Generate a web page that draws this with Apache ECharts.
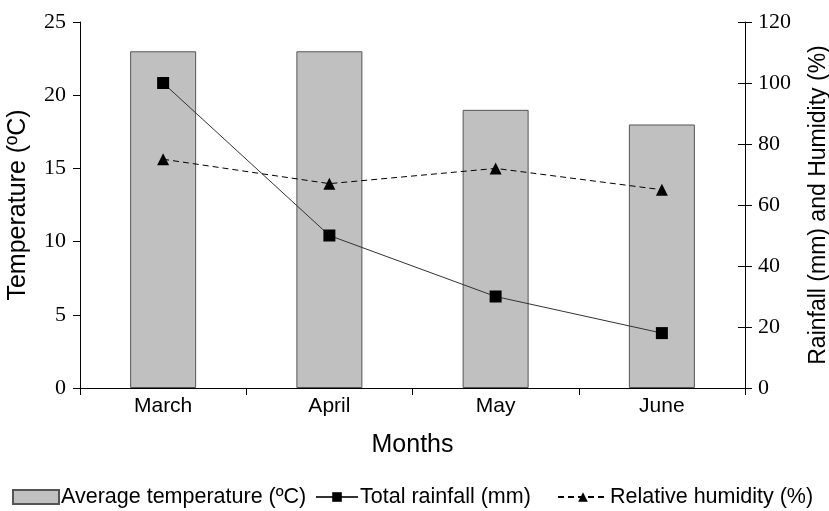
<!DOCTYPE html>
<html><head><meta charset="utf-8">
<script src="https://cdn.jsdelivr.net/npm/echarts@6/dist/echarts.min.js"></script>
<style>html,body{margin:0;padding:0;background:#fff}#c{width:829px;height:511px}</style>
</head><body><div id="c"></div>
<script>
var months = ['March', 'April', 'May', 'June'];
var avgTemperature = [23, 23, 19, 18];
var totalRainfall = [100, 50, 30, 18];
var relHumidity = [75, 67, 72, 65];
var leftTicks = [0, 25, 5];
var rightTicks = [0, 120, 20];

var chart = echarts.init(document.getElementById('c'), null, {renderer: 'canvas'});
var sans = 'Liberation Sans, Arial, sans-serif';
var serif = 'Liberation Serif, Times New Roman, serif';
var legendText = {fontFamily: sans, fontSize: 21.5, color: '#000', padding: [0, 0, 0, -3]};
chart.setOption({
  animation: false,
  backgroundColor: '#fff',
  grid: {left: 80, right: 84, top: 22, bottom: 123, outerBoundsMode: 'none', containLabel: false},
  legend: [
    {data: ['Average temperature (ºC)'], left: 12, top: 486, itemWidth: 46, itemHeight: 14, padding: 0, textStyle: legendText, icon: 'rect'},
    {data: ['Total rainfall (mm)'], left: 315, top: 486, itemWidth: 42, itemHeight: 12, padding: 0, textStyle: legendText},
    {data: ['Relative humidity (%)'], left: 557, top: 486, itemWidth: 50, itemHeight: 12, padding: 0, textStyle: legendText}
  ],
  xAxis: {
    type: 'category', data: months,
    name: 'Months', nameLocation: 'middle', nameGap: 45,
    nameTextStyle: {fontFamily: sans, fontSize: 25, color: '#000'},
    axisLine: {lineStyle: {color: '#000', width: 1}},
    axisTick: {show: true, length: 7, lineStyle: {color: '#000'}},
    axisLabel: {fontFamily: sans, fontSize: 21, color: '#000', margin: 8}
  },
  yAxis: [
    {
      type: 'value', min: leftTicks[0], max: leftTicks[1], interval: leftTicks[2], position: 'left',
      name: 'Temperature (ºC)', nameLocation: 'middle', nameGap: 49,
      nameTextStyle: {fontFamily: sans, fontSize: 25, color: '#000'},
      axisLine: {show: true, lineStyle: {color: '#000'}},
      axisTick: {show: true, length: 7, lineStyle: {color: '#000'}},
      axisLabel: {fontFamily: serif, fontSize: 22, color: '#000', margin: 14},
      splitLine: {show: false}
    },
    {
      type: 'value', min: rightTicks[0], max: rightTicks[1], interval: rightTicks[2], position: 'right',
      name: 'Rainfall (mm) and Humidity (%)', nameLocation: 'middle', nameGap: 62, nameRotate: 90,
      nameTextStyle: {fontFamily: sans, fontSize: 23, color: '#000'},
      axisLine: {show: true, lineStyle: {color: '#000'}},
      axisTick: {show: true, length: 7, lineStyle: {color: '#000'}},
      axisLabel: {fontFamily: serif, fontSize: 22, color: '#000', margin: 13},
      splitLine: {show: false}
    },
    {
      type: 'value', min: rightTicks[0], max: rightTicks[1], interval: rightTicks[2], position: 'right',
      axisLine: {show: false},
      axisTick: {show: true, inside: true, length: 7, lineStyle: {color: '#000'}},
      axisLabel: {show: false},
      splitLine: {show: false}
    }
  ],
  series: [
    {
      name: 'Average temperature (ºC)', type: 'bar', yAxisIndex: 0, data: avgTemperature,
      barWidth: 66,
      itemStyle: {color: '#c0c0c0', borderColor: '#555', borderWidth: 1}
    },
    {
      name: 'Total rainfall (mm)', type: 'line', yAxisIndex: 1, data: totalRainfall,
      symbol: 'rect', symbolSize: 12,
      lineStyle: {color: '#333', width: 1, type: 'solid'},
      itemStyle: {color: '#000'}
    },
    {
      name: 'Relative humidity (%)', type: 'line', yAxisIndex: 1, data: relHumidity,
      symbol: 'triangle', symbolSize: 12,
      lineStyle: {color: '#000', width: 1, type: [6, 4]},
      itemStyle: {color: '#000'}
    }
  ]
});
</script>
</body></html>
